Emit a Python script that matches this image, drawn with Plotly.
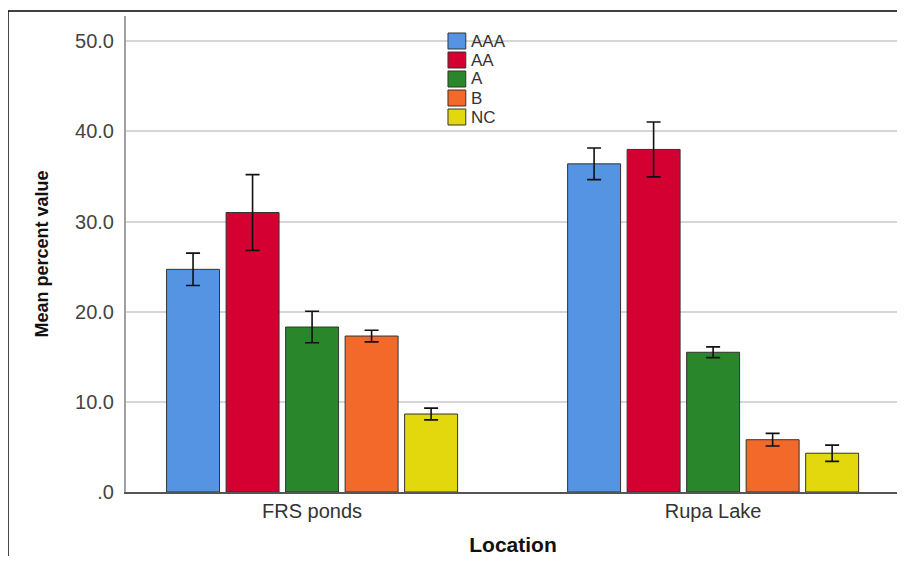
import plotly.graph_objects as go

locations = ["FRS ponds", "Rupa Lake"]
series_names = ["AAA", "AA", "A", "B", "NC"]
means = {
    "AAA": [24.7, 36.4],
    "AA": [31.0, 38.0],
    "A": [18.3, 15.5],
    "B": [17.3, 5.8],
    "NC": [8.65, 4.3],
}
errors = {
    "AAA": [1.8, 1.75],
    "AA": [4.2, 3.05],
    "A": [1.75, 0.6],
    "B": [0.65, 0.7],
    "NC": [0.65, 0.9],
}
colors = {
    "AAA": "#5594E2",
    "AA": "#D50032",
    "A": "#2A862A",
    "B": "#F2692A",
    "NC": "#E3D80E",
}
y_tickvals = [0, 10, 20, 30, 40, 50]
y_ticktext = [".0", "10.0", "20.0", "30.0", "40.0", "50.0"]

font_main = "Liberation Sans, Arial, sans-serif"

fig = go.Figure()
for s in series_names:
    fig.add_trace(go.Bar(
        name=s,
        x=locations,
        y=means[s],
        marker=dict(color=colors[s], line=dict(color="#333333", width=1)),
        error_y=dict(type="data", array=errors[s], visible=True,
                     color="#111111", thickness=1.6, width=7),
        showlegend=False,
    ))

# Manual legend (compact spacing like the original)
shapes = [
    dict(type="line", xref="paper", yref="paper",
         x0=-0.1525, x1=-0.1525, y0=-0.2, y1=1.0105,
         line=dict(color="black", width=1.5)),
    dict(type="line", xref="paper", yref="paper",
         x0=-0.1525, x1=1.1, y0=1.0105, y1=1.0105,
         line=dict(color="black", width=1.5)),
]
annotations = []
leg_x0, leg_x1, leg_tx = 0.416, 0.439, 0.443
leg_top = (492 - 41) / 476.0
leg_step = 19 / 476.0
box_h = 16 / 476.0
for i, s in enumerate(series_names):
    yc = leg_top - i * leg_step
    shapes.append(dict(type="rect", xref="paper", yref="paper",
                       x0=leg_x0, x1=leg_x1, y0=yc - box_h / 2, y1=yc + box_h / 2,
                       fillcolor=colors[s], line=dict(color="#333333", width=1)))
    annotations.append(dict(xref="paper", yref="paper", x=leg_tx, y=yc,
                            xanchor="left", yanchor="middle", showarrow=False,
                            text=s, font=dict(size=17, color="#333333", family=font_main)))

fig.update_layout(
    width=905, height=548,
    margin=dict(l=118, r=13, t=8, b=64),
    paper_bgcolor="white", plot_bgcolor="white",
    barmode="group", bargap=0.258, bargroupgap=0.11,
    font=dict(family=font_main, color="#333333"),
    showlegend=False,
    shapes=shapes,
    annotations=annotations,
)

fig.update_xaxes(
    type="category", range=[-0.464, 1.466], automargin=False,
    showline=True, linecolor="#555555", linewidth=1.5,
    ticks="", tickfont=dict(size=20, color="#333333"),
    title=dict(text="<b>Location</b>", font=dict(size=21, color="#111111", family=font_main), standoff=17),
    showgrid=False,
)
fig.update_yaxes(
    range=[0, 52.8], automargin=False,
    tickvals=y_tickvals, ticktext=y_ticktext,
    showgrid=True, gridcolor="#D6D6D6", gridwidth=2,
    showline=True, linecolor="#A0A0A0", linewidth=2,
    ticks="", ticklabelstandoff=6, tickfont=dict(size=20, color="#444444"),
    zeroline=False,
    title=dict(text="<b>Mean percent value</b>", font=dict(size=18, color="#111111", family=font_main), standoff=22),
)

fig.write_html("out.html", config={"displayModeBar": False})
